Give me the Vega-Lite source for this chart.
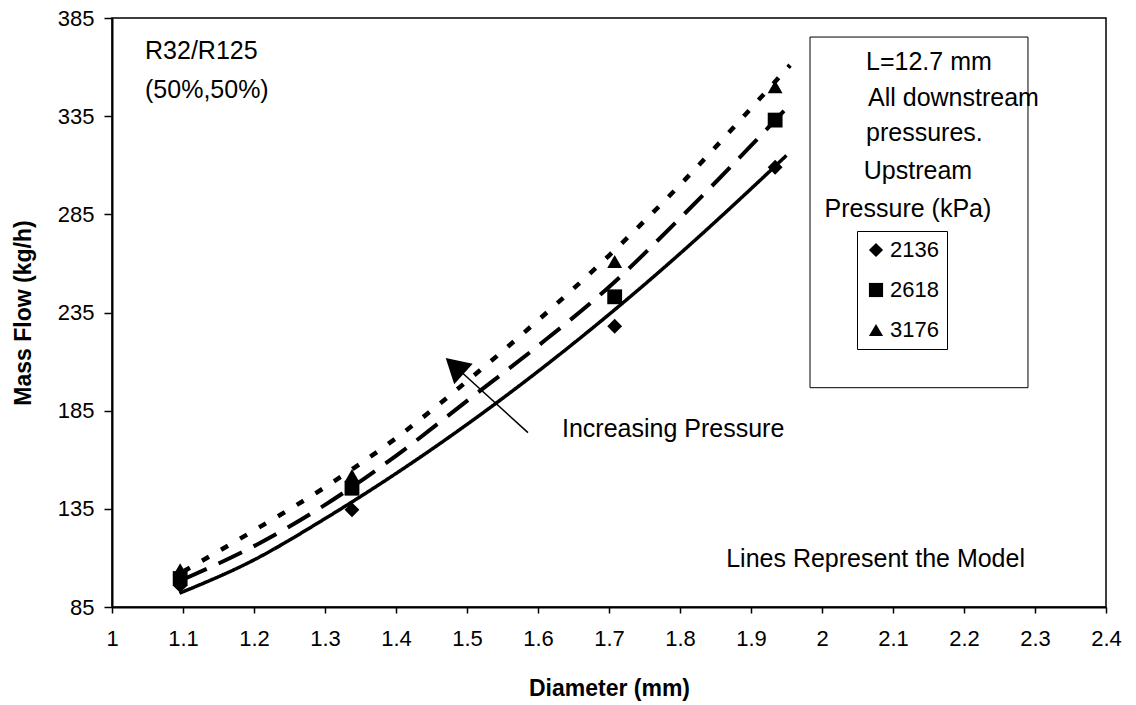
{
  "$schema": "https://vega.github.io/schema/vega-lite/v6.json",
  "width": 994,
  "height": 589,
  "autosize": {"type": "none"},
  "padding": {"left": 112, "top": 18, "right": 30, "bottom": 98},
  "background": "white",
  "config": {
    "font": "Liberation Sans",
    "view": {"stroke": "black", "strokeWidth": 1.5},
    "axis": {
      "grid": false,
      "domainColor": "black",
      "domainWidth": 2,
      "tickColor": "black",
      "tickWidth": 1.5,
      "labelColor": "black",
      "titleColor": "black",
      "labelFont": "Liberation Sans",
      "titleFont": "Liberation Sans",
      "labelFontSize": 22,
      "titleFontSize": 23,
      "titleFontWeight": "bold"
    },
    "legend": {
      "labelFont": "Liberation Sans",
      "labelFontSize": 22,
      "labelColor": "black"
    },
    "text": {"font": "Liberation Sans", "fontSize": 25, "color": "black"}
  },
  "datasets": {
    "model": [
      {"Series": 2136, "Diameter": 1.095, "MassFlow": 92},
      {"Series": 2136, "Diameter": 1.2, "MassFlow": 109},
      {"Series": 2136, "Diameter": 1.3, "MassFlow": 130},
      {"Series": 2136, "Diameter": 1.4, "MassFlow": 153},
      {"Series": 2136, "Diameter": 1.5, "MassFlow": 178},
      {"Series": 2136, "Diameter": 1.6, "MassFlow": 205},
      {"Series": 2136, "Diameter": 1.7, "MassFlow": 234},
      {"Series": 2136, "Diameter": 1.8, "MassFlow": 265},
      {"Series": 2136, "Diameter": 1.9, "MassFlow": 298},
      {"Series": 2136, "Diameter": 1.95, "MassFlow": 315},
      {"Series": 2618, "Diameter": 1.1, "MassFlow": 99},
      {"Series": 2618, "Diameter": 1.2, "MassFlow": 116},
      {"Series": 2618, "Diameter": 1.3, "MassFlow": 137},
      {"Series": 2618, "Diameter": 1.4, "MassFlow": 162},
      {"Series": 2618, "Diameter": 1.5, "MassFlow": 190},
      {"Series": 2618, "Diameter": 1.6, "MassFlow": 218},
      {"Series": 2618, "Diameter": 1.7, "MassFlow": 248},
      {"Series": 2618, "Diameter": 1.8, "MassFlow": 283},
      {"Series": 2618, "Diameter": 1.9, "MassFlow": 320},
      {"Series": 2618, "Diameter": 1.95, "MassFlow": 339},
      {"Series": 3176, "Diameter": 1.1, "MassFlow": 103},
      {"Series": 3176, "Diameter": 1.2, "MassFlow": 124},
      {"Series": 3176, "Diameter": 1.3, "MassFlow": 146},
      {"Series": 3176, "Diameter": 1.4, "MassFlow": 171},
      {"Series": 3176, "Diameter": 1.5, "MassFlow": 200},
      {"Series": 3176, "Diameter": 1.6, "MassFlow": 231},
      {"Series": 3176, "Diameter": 1.7, "MassFlow": 264},
      {"Series": 3176, "Diameter": 1.8, "MassFlow": 300},
      {"Series": 3176, "Diameter": 1.9, "MassFlow": 339},
      {"Series": 3176, "Diameter": 1.955, "MassFlow": 361}
    ],
    "measured": [
      {"Pressure": "2136", "Diameter": 1.096, "MassFlow": 96},
      {"Pressure": "2136", "Diameter": 1.338, "MassFlow": 134.5},
      {"Pressure": "2136", "Diameter": 1.708, "MassFlow": 228},
      {"Pressure": "2136", "Diameter": 1.934, "MassFlow": 309},
      {"Pressure": "2618", "Diameter": 1.096, "MassFlow": 99.5},
      {"Pressure": "2618", "Diameter": 1.338, "MassFlow": 145.5},
      {"Pressure": "2618", "Diameter": 1.708, "MassFlow": 243},
      {"Pressure": "2618", "Diameter": 1.934, "MassFlow": 333},
      {"Pressure": "3176", "Diameter": 1.096, "MassFlow": 104},
      {"Pressure": "3176", "Diameter": 1.338, "MassFlow": 152},
      {"Pressure": "3176", "Diameter": 1.708, "MassFlow": 261},
      {"Pressure": "3176", "Diameter": 1.934, "MassFlow": 350}
    ]
  },
  "encoding": {
    "x": {
      "type": "quantitative",
      "scale": {"domain": [1, 2.4], "nice": false, "zero": false},
      "axis": {
        "title": "Diameter (mm)",
        "values": [1, 1.1, 1.2, 1.3, 1.4, 1.5, 1.6, 1.7, 1.8, 1.9, 2, 2.1, 2.2, 2.3, 2.4],
        "format": "~g",
        "tickSize": 6,
        "labelPadding": 15,
        "titlePadding": 28,
        "labelFlush": false,
        "labelOverlap": false
      }
    },
    "y": {
      "type": "quantitative",
      "scale": {"domain": [85, 385], "nice": false, "zero": false},
      "axis": {
        "title": "Mass Flow (kg/h)",
        "values": [85, 135, 185, 235, 285, 335, 385],
        "tickSize": 8,
        "labelPadding": 10,
        "titlePadding": 22,
        "labelFlush": false,
        "labelOverlap": false
      }
    }
  },
  "layer": [
    {
      "data": {"values": [{}]},
      "mark": {"type": "rect", "fill": "white", "fillOpacity": 0, "stroke": "black", "strokeWidth": 1},
      "encoding": {
        "x": {"datum": 1.9831},
        "x2": {"datum": 2.2901},
        "y": {"datum": 375.3},
        "y2": {"datum": 196.7}
      }
    },
    {
      "data": {"name": "model"},
      "mark": {"type": "line", "color": "black", "interpolate": "monotone", "strokeCap": "butt"},
      "encoding": {
        "x": {"field": "Diameter", "type": "quantitative"},
        "y": {"field": "MassFlow", "type": "quantitative"},
        "detail": {"field": "Series", "type": "nominal"},
        "strokeDash": {
          "field": "Series",
          "type": "nominal",
          "scale": {"domain": [2136, 2618, 3176], "range": [[1, 0], [26, 13], [8, 14]]},
          "legend": null
        },
        "strokeWidth": {
          "field": "Series",
          "type": "nominal",
          "scale": {"domain": [2136, 2618, 3176], "range": [3.5, 4.5, 4.5]},
          "legend": null
        }
      }
    },
    {
      "data": {"name": "measured"},
      "mark": {"type": "point", "filled": true, "color": "black", "opacity": 1, "size": 220},
      "encoding": {
        "x": {"field": "Diameter", "type": "quantitative"},
        "y": {"field": "MassFlow", "type": "quantitative"},
        "shape": {
          "field": "Pressure",
          "type": "nominal",
          "scale": {"domain": ["2136", "2618", "3176"], "range": ["diamond", "square", "triangle-up"]},
          "legend": {
            "title": null,
            "orient": "none",
            "legendX": 745,
            "legendY": 213,
            "strokeColor": "black",
            "padding": 8,
            "rowPadding": 18,
            "labelOffset": 3,
            "symbolSize": 200,
            "symbolFillColor": "black",
            "symbolStrokeColor": "black"
          }
        }
      }
    },
    {
      "data": {"values": [{}]},
      "mark": {"type": "rule", "color": "black", "strokeWidth": 1.5},
      "encoding": {
        "x": {"datum": 1.5859},
        "y": {"datum": 173.8},
        "x2": {"datum": 1.4944},
        "y2": {"datum": 203.9}
      }
    },
    {
      "data": {"values": [{}]},
      "mark": {"type": "point", "shape": "triangle-up", "filled": true, "color": "black", "opacity": 1, "size": 760, "angle": 312},
      "encoding": {
        "x": {"datum": 1.4825},
        "y": {"datum": 207.8}
      }
    },
    {
      "data": {"values": [{}]},
      "mark": {"type": "text", "align": "left", "baseline": "alphabetic", "text": "R32/R125"},
      "encoding": {"x": {"datum": 1.0465}, "y": {"datum": 364.1}}
    },
    {
      "data": {"values": [{}]},
      "mark": {"type": "text", "align": "left", "baseline": "alphabetic", "text": "(50%,50%)"},
      "encoding": {"x": {"datum": 1.0465}, "y": {"datum": 344.2}}
    },
    {
      "data": {"values": [{}]},
      "mark": {"type": "text", "align": "left", "baseline": "alphabetic", "text": "Increasing Pressure"},
      "encoding": {"x": {"datum": 1.6338}, "y": {"datum": 171.7}}
    },
    {
      "data": {"values": [{}]},
      "mark": {"type": "text", "align": "right", "baseline": "alphabetic", "text": "Lines Represent the Model"},
      "encoding": {"x": {"datum": 2.2859}, "y": {"datum": 105.4}}
    },
    {
      "data": {"values": [{}]},
      "mark": {"type": "text", "align": "left", "baseline": "alphabetic", "text": "L=12.7 mm"},
      "encoding": {"x": {"datum": 2.062}, "y": {"datum": 358.5}}
    },
    {
      "data": {"values": [{}]},
      "mark": {"type": "text", "align": "left", "baseline": "alphabetic", "text": "All downstream"},
      "encoding": {"x": {"datum": 2.0648}, "y": {"datum": 340.1}}
    },
    {
      "data": {"values": [{}]},
      "mark": {"type": "text", "align": "left", "baseline": "alphabetic", "text": "pressures."},
      "encoding": {"x": {"datum": 2.062}, "y": {"datum": 322.2}}
    },
    {
      "data": {"values": [{}]},
      "mark": {"type": "text", "align": "center", "baseline": "alphabetic", "text": "Upstream"},
      "encoding": {"x": {"datum": 2.1352}, "y": {"datum": 302.9}}
    },
    {
      "data": {"values": [{}]},
      "mark": {"type": "text", "align": "center", "baseline": "alphabetic", "text": "Pressure (kPa)"},
      "encoding": {"x": {"datum": 2.1211}, "y": {"datum": 283.5}}
    }
  ]
}
